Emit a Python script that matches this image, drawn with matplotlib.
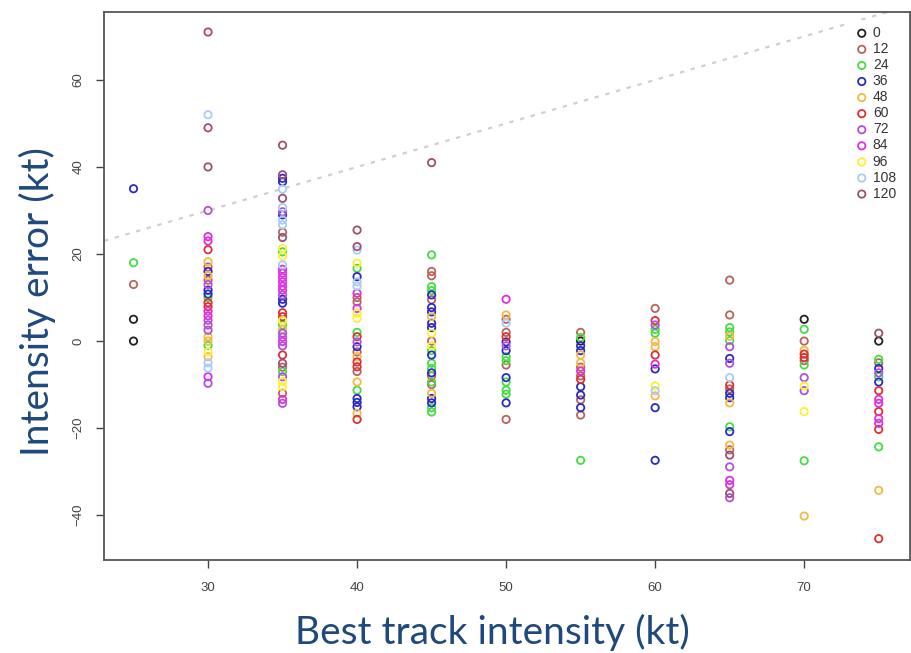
import matplotlib
matplotlib.use('Agg')
import matplotlib.pyplot as plt

# best track intensity (kt) and intensity error (kt) for each forecast lead time (h)
lead_times = [0, 12, 24, 36, 48, 60, 72, 84, 96, 108, 120]
colors = ['#222222', '#B8635C', '#44DD44', '#2B2BC0', '#F5B942', '#E03030',
          '#B050E0', '#E030E0', '#FFF030', '#A8CCF5', '#9E5070']

bt_0 = [25, 25, 55, 70, 75]
err_0 = [5, 0, 0, 5, 0]

bt_12 = [25, 30, 30, 35, 35, 35, 40, 40, 40, 40, 45, 45, 45, 45, 45, 45,
         50, 50, 50, 50, 55, 55, 55, 55, 55, 60, 65, 65, 65, 65, 70, 70, 75]
err_12 = [13, 17, 14, 25, -6, -12, 10, 9, -2.5, -7, 16, 15, 9.5, 0, -8, -10,
          5, 2, -5.5, -18, 2, -6, -8, -13.5, -17, 7.5, 14, 6, -11, -25, 0, -4.5, -5]

bt_24 = [25, 30, 30, 35, 35, 35, 40, 40, 40,
         45, 45, 45, 45, 45, 45, 45, 45, 45,
         50, 50, 50, 50, 50, 55, 55, 60, 60,
         65, 65, 65, 65, 70, 70, 70, 75, 75, 75]
err_24 = [18, 10, -1, 20.5, 3.7, -7, 16.7, 2, -11.3,
          19.8, 12.5, 11.6, -2.2, -5.1, -6.3, -9.4, -15.3, -16.3,
          -3.6, -4.5, -9.4, -11.3, -12.2, 0.8, -27.4, 2.7, 1.8,
          3.1, 2.1, 0.1, -19.7, 2.7, -5.5, -27.5, -4.2, -8.2, -24.3]

bt_36 = [25, 30, 30, 30, 35, 35, 35, 35, 35, 40, 40, 40, 40, 40,
         45, 45, 45, 45, 45, 45, 45, 45, 45, 50, 50, 50, 50,
         55, 55, 55, 55, 55, 60, 60, 60, 65, 65, 65, 65, 75, 75]
err_36 = [35, 16, 11.7, 10.8, 37.4, 36.6, 29, 9.6, 8.7, 14.8, -1.3, -13.2, -14.1, -15.1,
          10.6, 7.7, 6.7, 4.1, 3.1, -3.2, -7.3, -13.2, -14.2, -0.2, -2.2, -8.4, -14.2,
          -1.1, -2.2, -10.5, -12.4, -15.3, -6.4, -15.3, -27.4, -4, -12, -13, -20.8, -6.3, -9.4]

bt_48 = [30, 30, 30, 30, 30, 35, 40, 40, 40, 45, 45, 50, 55, 55,
         60, 60, 60, 65, 65, 65, 70, 70, 75]
err_48 = [18.2, 15, 1, 0, -3.6, 2.7, -3.6, -9.4, -16.6, 5.6, -12, 6, -3.2, -5,
          -0.1, -1.3, -12.6, 1.1, -14.2, -23.9, -2.1, -40.2, -34.3]

bt_60 = [30, 30, 30, 35, 35, 35, 40, 40, 40, 40, 50, 55, 60, 60, 65, 70, 70,
         75, 75, 75, 75]
err_60 = [21, 8.8, 7.9, 6.5, 5.6, -3.2, 1, -4.8, -5.9, -18, 1, -8.8, 4.7, -3.2, -10.1, -3, -3.8,
          -11.4, -16.2, -20.3, -45.4]

bt_72 = [30, 30, 30, 30, 30, 30, 35, 35, 35, 35, 35, 35, 35, 40, 50, 60,
         65, 65, 65, 65, 70, 70, 75]
err_72 = [30, 13, 4.8, 3.7, 2.5, -9.7, 29.7, 10.6, 1.8, 0.9, -1.1, -8.2, -14.3, -0.2, -1.1, 3.7,
          -1.3, -5.1, -28.9, -36, -8.4, -11.4, -7.3]

bt_84 = [30, 30, 30, 30, 30, 35, 35, 35, 35, 35, 35, 35, 35, 40, 40, 50, 55, 60,
         65, 65, 75, 75, 75, 75]
err_84 = [24, 23, 6.9, 5.8, -8.2, 16.5, 15.6, 14.6, 13.6, 12.6, 11.7, -0.1, -13.4, 11, 7.5, 9.6, -6.9, -5.3,
          -32, -33, -13.4, -14.3, -17.8, -18.9]

bt_96 = [30, 35, 35, 35, 35, 35, 40, 40, 40, 45, 45, 60, 70, 70]
err_96 = [-2.5, 21.3, 19.5, 4.7, -9.3, -10.5, 17.9, 6.4, 5.2, 1.8, -1.1, -10.3, -10.3, -16.2]

bt_108 = [30, 30, 30, 35, 35, 35, 35, 35, 40, 40, 40, 50, 60, 65]
err_108 = [52, -5, -6.2, 34.9, 30.7, 27.8, 26.7, 17.5, 20.9, 13.6, 12.6, 4.1, -11.4, -8.4]

bt_120 = [30, 30, 30, 35, 35, 35, 35, 35, 40, 40, 45, 65, 65, 75]
err_120 = [71, 49, 40, 45, 38.2, 32.8, 23.8, -5.1, 25.5, 21.7, 41, -26.2, -35, 1.8]

bt_all = [bt_0, bt_12, bt_24, bt_36, bt_48, bt_60, bt_72, bt_84, bt_96, bt_108, bt_120]
err_all = [err_0, err_12, err_24, err_36, err_48, err_60, err_72, err_84, err_96, err_108, err_120]

plt.rcParams['font.family'] = ['Liberation Sans', 'DejaVu Sans']

fig = plt.figure(figsize=(9.11, 6.53), dpi=100)
ax = fig.add_axes([104 / 911, 1 - 560 / 653, 806 / 911, 548 / 653])

# one-to-one line
ax.axline((0, 0), slope=1, color='#D0D0D0', linestyle=(0, (2, 3)), linewidth=1.6, zorder=1)

for i in range(len(lead_times)):
    ax.scatter(bt_all[i], err_all[i], s=28, facecolors='none', edgecolors=colors[i],
               linewidths=1.3, label=str(lead_times[i]), zorder=2)

ax.set_xlim(23.02, 77.1)
ax.set_ylim(-50.3, 75.6)
ax.set_xticks([30, 40, 50, 60, 70])
ax.set_yticks([-40, -20, 0, 20, 40, 60])
ax.tick_params(axis='both', labelsize=9.5, colors='#444444', length=6, width=1, direction='out')
ax.tick_params(axis='x', pad=10)
ax.tick_params(axis='y', pad=8)
for lab in ax.get_yticklabels():
    lab.set_rotation(90)
    lab.set_va('center')
for sp in ax.spines.values():
    sp.set_color('#555555')
    sp.set_linewidth(1.3)

leg = ax.legend(loc='upper right', fontsize=10, frameon=True, facecolor='white', edgecolor='none',
                framealpha=1, handletextpad=0.2, labelspacing=0.15, borderaxespad=0.6,
                handlelength=1.2, markerscale=1.0)
for t in leg.get_texts():
    t.set_color('#333333')

blue = '#1F497D'
fig.text(492 / 911, 1 - 632 / 653, 'Best track intensity (kt)', ha='center', va='center',
         fontsize=28, color=blue, family=['Lato', 'DejaVu Sans'])
fig.text(37 / 911, 1 - 302 / 653, 'Intensity error (kt)', ha='center', va='center',
         fontsize=28, color=blue, rotation=90, family=['Lato', 'DejaVu Sans'])

fig.savefig('out.png', dpi=100)
